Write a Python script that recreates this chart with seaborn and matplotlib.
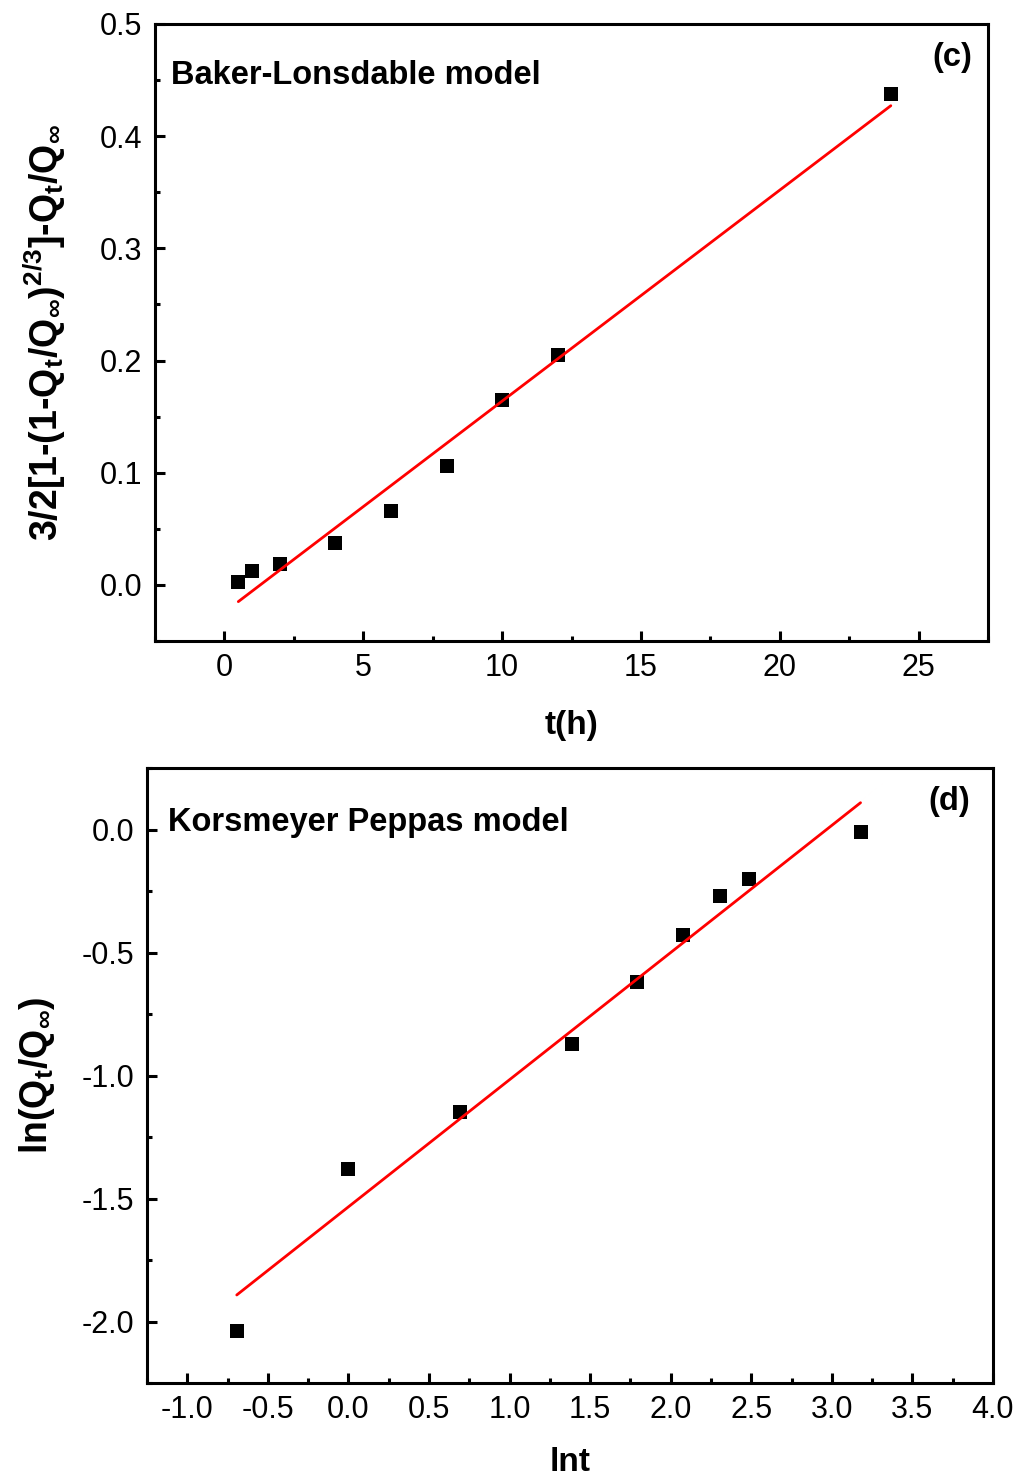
import matplotlib
matplotlib.use("Agg")
import matplotlib.pyplot as plt
import seaborn as sns
from matplotlib.ticker import MultipleLocator

# ----------------------------
# Data
# ----------------------------
t_hours = [0.5, 1, 2, 4, 6, 8, 10, 12, 24]
baker_lonsdale = [0.003, 0.012, 0.019, 0.037, 0.066, 0.106, 0.165, 0.205, 0.438]

ln_t = [-0.693, 0.0, 0.693, 1.386, 1.792, 2.079, 2.303, 2.485, 3.178]
ln_release = [-2.04, -1.38, -1.15, -0.87, -0.62, -0.43, -0.27, -0.20, -0.01]

sns.set_theme(style="ticks")
plt.rcParams.update({
    "font.family": ["Liberation Sans", "DejaVu Sans"],
    "mathtext.fontset": "custom",
    "mathtext.rm": "Liberation Sans:bold",
    "mathtext.it": "Liberation Sans:bold",
    "mathtext.bf": "Liberation Sans:bold",
    "mathtext.sf": "Liberation Sans:bold",
    "mathtext.default": "bf",
    "axes.unicode_minus": False,
    "axes.linewidth": 2.2,
    "axes.edgecolor": "black",
    "axes.labelcolor": "black",
    "text.color": "black",
    "xtick.color": "black",
    "ytick.color": "black",
})

fig = plt.figure(figsize=(10.17, 14.81), dpi=100)
ax1 = fig.add_axes([155/1017, 1-641/1481, 833/1017, 617/1481])
ax2 = fig.add_axes([147/1017, 1-1383/1481, 846/1017, 615/1481])

scatter_kws = dict(s=95, linewidths=0, color="black", alpha=1, zorder=2)
line_kws = dict(color="red", lw=2, zorder=3)

# ----------------------------
# (c) Baker-Lonsdale
# ----------------------------
sns.regplot(x=t_hours, y=baker_lonsdale, ax=ax1, ci=None, truncate=True,
            marker="s", scatter_kws=scatter_kws, line_kws=line_kws)
ax1.set_xlim(-2.5, 27.5)
ax1.set_ylim(-0.05, 0.5)
ax1.xaxis.set_major_locator(MultipleLocator(5))
ax1.xaxis.set_minor_locator(MultipleLocator(2.5))
ax1.yaxis.set_major_locator(MultipleLocator(0.1))
ax1.yaxis.set_minor_locator(MultipleLocator(0.05))
ax1.set_xlabel("t(h)", fontsize=24, fontweight="bold")
ax1.set_ylabel(r"3/2[1-(1-Q$_t$/Q$_\infty$)$^{2/3}$]-Q$_t$/Q$_\infty$",
               fontsize=27, fontweight="bold")
ax1.text(0.019, 0.917, "Baker-Lonsdable model", transform=ax1.transAxes,
         fontsize=23.5, fontweight="bold", ha="left", va="center")
ax1.text(0.981, 0.945, "(c)", transform=ax1.transAxes,
         fontsize=23.5, fontweight="bold", ha="right", va="center")

# ----------------------------
# (d) Korsmeyer-Peppas
# ----------------------------
sns.regplot(x=ln_t, y=ln_release, ax=ax2, ci=None, truncate=True,
            marker="s", scatter_kws=scatter_kws, line_kws=line_kws)
ax2.set_xlim(-1.25, 4.0)
ax2.set_ylim(-2.25, 0.25)
ax2.xaxis.set_major_locator(MultipleLocator(0.5))
ax2.xaxis.set_minor_locator(MultipleLocator(0.25))
ax2.yaxis.set_major_locator(MultipleLocator(0.5))
ax2.yaxis.set_minor_locator(MultipleLocator(0.25))
ax2.set_xlabel("lnt", fontsize=24, fontweight="bold")
ax2.set_ylabel(r"ln(Q$_t$/Q$_\infty$)", fontsize=27, fontweight="bold")
ax2.text(0.025, 0.912, "Korsmeyer Peppas model", transform=ax2.transAxes,
         fontsize=23.5, fontweight="bold", ha="left", va="center")
ax2.text(0.973, 0.945, "(d)", transform=ax2.transAxes,
         fontsize=23.5, fontweight="bold", ha="right", va="center")

for ax in (ax1, ax2):
    ax.tick_params(which="both", direction="in", width=2.2, labelsize=22,
                   top=False, right=False, colors="black")
    ax.tick_params(which="major", length=7, pad=9)
    ax.tick_params(which="minor", length=3.5)
    for sp in ax.spines.values():
        sp.set_visible(True)
        sp.set_linewidth(2.2)
        sp.set_color("black")

ax1.xaxis.set_label_coords(0.5, -0.112)
ax1.yaxis.set_label_coords(-0.105, 0.5)
ax2.xaxis.set_label_coords(0.5, -0.104)
ax2.yaxis.set_label_coords(-0.106, 0.5)
ax1.xaxis.label.set_va("top")
ax2.xaxis.label.set_va("top")

fig.savefig("out.png", dpi=100)
plt.close(fig)
